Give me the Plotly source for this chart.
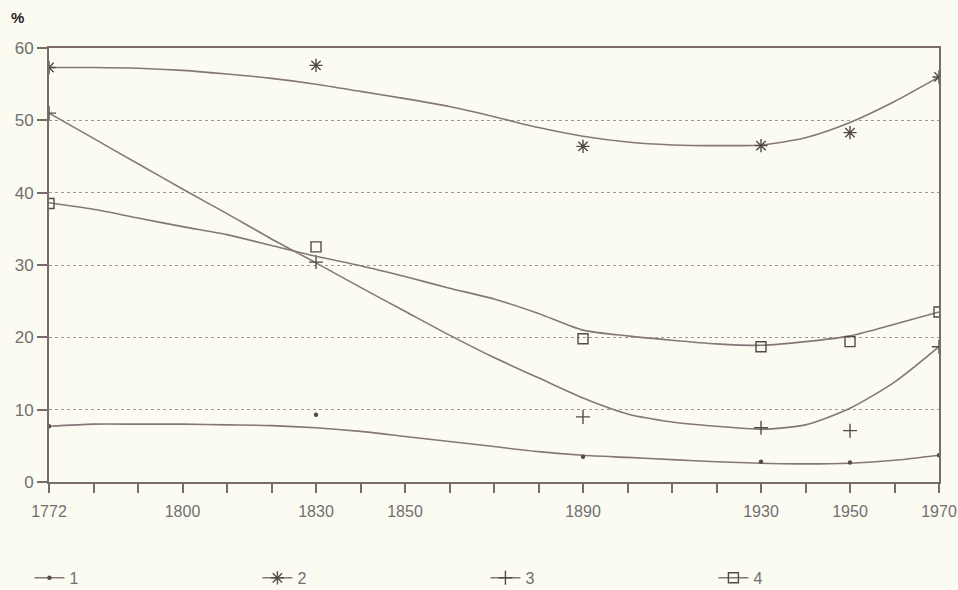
import plotly.graph_objects as go

# ---- data ----
obs_years = [1772, 1830, 1890, 1930, 1950, 1970]
series_names = ["1", "2", "3", "4"]
s1_points = [7.7, 9.3, 3.5, 2.8, 2.7, 3.7]
s2_points = [57.3, 57.6, 46.4, 46.5, 48.3, 56.0]
s3_points = [51.0, 30.4, 9.0, 7.5, 7.1, 18.7]
s4_points = [38.5, 32.5, 19.8, 18.7, 19.4, 23.5]

curve_years = [1770, 1780, 1790, 1800, 1810, 1820, 1830, 1840, 1850, 1860, 1870,
               1880, 1890, 1900, 1910, 1920, 1930, 1940, 1950, 1960, 1970]
s1_curve = [7.7, 8.0, 8.0, 8.0, 7.9, 7.8, 7.5, 7.0, 6.3, 5.6, 4.9,
            4.2, 3.7, 3.4, 3.1, 2.8, 2.6, 2.5, 2.6, 3.0, 3.7]
s2_curve = [57.3, 57.3, 57.2, 56.9, 56.4, 55.8, 55.0, 54.0, 53.0, 51.9, 50.5,
            49.0, 47.8, 47.0, 46.6, 46.5, 46.6, 47.6, 49.7, 52.6, 56.0]
s3_curve = [51.0, 47.5, 44.0, 40.5, 37.1, 33.6, 30.3, 26.9, 23.6, 20.3, 17.2,
            14.4, 11.6, 9.4, 8.3, 7.7, 7.3, 7.9, 10.2, 13.8, 18.7]
s4_curve = [38.6, 37.7, 36.5, 35.3, 34.2, 32.7, 31.2, 29.9, 28.4, 26.8, 25.3,
            23.3, 21.0, 20.2, 19.6, 19.1, 18.9, 19.4, 20.2, 21.8, 23.5]

x_tick_vals = [1770, 1800, 1830, 1850, 1890, 1930, 1950, 1970]
x_tick_text = ["1772", "1800", "1830", "1850", "1890", "1930", "1950", "1970"]
y_tick_vals = [0, 10, 20, 30, 40, 50, 60]

AXIS_START = 1770  # first observation (1772) is drawn at the axis origin
obs_x = [AXIS_START if y == obs_years[0] else y for y in obs_years]

LINE = "#85767a"
AXIS = "#7a6a6a"
TEXT = "#707070"
MARK = "#554a4a"
BG = "#fbfbf2"
FONT = "Liberation Sans Narrow, Liberation Sans, Arial, sans-serif"

points = [s1_points, s2_points, s3_points, s4_points]
curves = [s1_curve, s2_curve, s3_curve, s4_curve]
symbols = ["circle", "asterisk-open", "cross-thin-open", "square-open"]
sizes = [3, 11, 10, 10]

fig = go.Figure()
for name, pts, crv, sym, sz in zip(series_names, points, curves, symbols, sizes):
    fig.add_trace(go.Scatter(x=curve_years, y=crv, mode="lines",
                             line=dict(color=LINE, width=1.6, shape="spline", smoothing=0.7),
                             showlegend=False, hoverinfo="skip"))
    fig.add_trace(go.Scatter(x=obs_x, y=pts, mode="markers", name=name,
                             marker=dict(symbol=sym, size=sz, color=MARK,
                                         line=dict(color=MARK, width=1.4)),
                             showlegend=False))
    fig.add_trace(go.Scatter(x=[None], y=[None], mode="lines+markers", name=name,
                             line=dict(color=LINE, width=1.4),
                             marker=dict(symbol=sym, size=sz, color=MARK,
                                         line=dict(color=MARK, width=1.4))))

fig.update_layout(
    width=958, height=590,
    autosize=False,
    margin=dict(l=49, r=19, t=48, b=108, autoexpand=False),
    paper_bgcolor=BG, plot_bgcolor=BG,
    font=dict(family=FONT, size=16, color=TEXT),
    showlegend=True,
    legend=dict(orientation="h", x=-0.022, y=-0.221, xanchor="left", yanchor="middle",
                entrywidth=183, entrywidthmode="pixels",
                font=dict(family=FONT, size=16, color=TEXT), bgcolor="rgba(0,0,0,0)"),
    xaxis=dict(range=[1770, 1970], tickmode="array", tickvals=x_tick_vals, ticktext=x_tick_text,
               ticks="outside", ticklen=9, tickwidth=2, tickcolor=AXIS, ticklabelstandoff=5,
               showline=True, linecolor=AXIS, linewidth=2, mirror=True,
               showgrid=False, zeroline=False,
               minor=dict(ticks="outside", tick0=1770, dtick=10, ticklen=9, tickwidth=2,
                          tickcolor=AXIS, showgrid=False)),
    yaxis=dict(range=[0, 60], tickmode="array", tickvals=y_tick_vals,
               ticks="outside", ticklen=10, tickwidth=2, tickcolor=AXIS,
               showline=True, linecolor=AXIS, linewidth=2, mirror=True,
               showgrid=True, gridcolor="#a09890", griddash="dot", gridwidth=1,
               zeroline=False, tickfont=dict(size=17)),
    annotations=[dict(text="<b>%</b>", x=(17 - 49) / 890, y=(482 - 18) / 434,
                      xref="paper", yref="paper", xanchor="center", yanchor="middle",
                      showarrow=False, font=dict(family="Liberation Sans, Arial", size=15,
                                                 color="#222222"))],
)

fig.write_html("out.html", config={"displayModeBar": False},
               post_script="document.body.style.margin='0';document.body.style.padding='0';")
